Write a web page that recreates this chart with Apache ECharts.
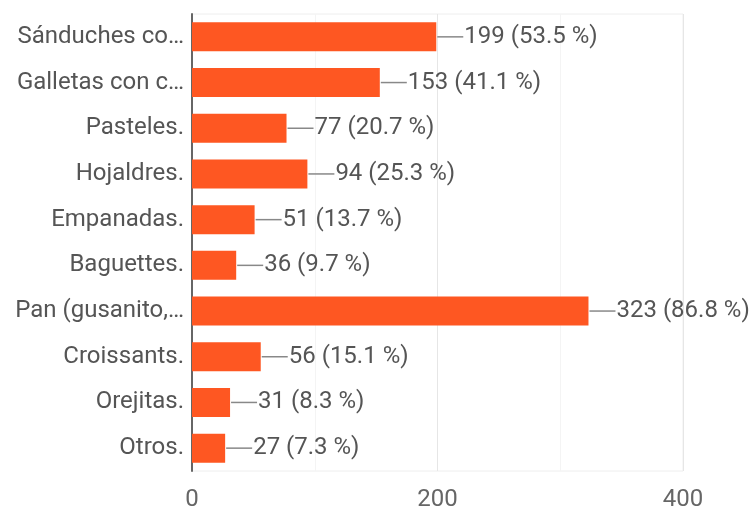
<!DOCTYPE html>
<html>
<head>
<meta charset="utf-8">
<script src="https://cdn.jsdelivr.net/npm/echarts@6/dist/echarts.min.js"></script>
<style>
  html, body { margin: 0; padding: 0; background: #ffffff; }
  #chart { width: 752px; height: 508px; }
</style>
</head>
<body>
<div id="chart"></div>
<script>
// Responses per item (372 respondents, multiple choice)
const categories = [
  'Sánduches co…',
  'Galletas con c…',
  'Pasteles.',
  'Hojaldres.',
  'Empanadas.',
  'Baguettes.',
  'Pan (gusanito,…',
  'Croissants.',
  'Orejitas.',
  'Otros.'
];
const counts = [199, 153, 77, 94, 51, 36, 323, 56, 31, 27];
const percents = ['53.5', '41.1', '20.7', '25.3', '13.7', '9.7', '86.8', '15.1', '8.3', '7.3'];
const xTicks = [0, 200, 400];

const font = 'Roboto, "Noto Sans", sans-serif';
const chart = echarts.init(document.getElementById('chart'), null, { renderer: 'canvas' });

chart.setOption({
  animation: false,
  backgroundColor: '#ffffff',
  grid: {
    left: 192, right: 69, top: 14, bottom: 37,
    outerBoundsMode: 'none',
    containLabel: false,
    show: true, borderColor: '#eeeeee', borderWidth: 1
  },
  xAxis: {
    type: 'value',
    min: xTicks[0],
    max: xTicks[xTicks.length - 1],
    interval: xTicks[1] - xTicks[0],
    axisLine: { show: false },
    axisTick: { show: false },
    axisLabel: {
      color: '#666666', fontFamily: font, fontSize: 24, margin: 17
    },
    splitLine: { show: true, lineStyle: { color: '#e6e6e6', width: 1 } },
    minorTick: { show: false, splitNumber: 2 },
    minorSplitLine: { show: true, lineStyle: { color: '#f4f4f4', width: 1 } }
  },
  yAxis: {
    type: 'category',
    data: categories,
    inverse: true,
    axisLine: { show: true, lineStyle: { color: '#666666', width: 2 } },
    axisTick: { show: false },
    axisLabel: {
      color: '#555555', fontFamily: font, fontSize: 24, margin: 8
    },
    splitLine: { show: false }
  },
  series: [{
    type: 'bar',
    data: counts,
    barWidth: 29,
    itemStyle: { color: '#fe5722' },
    label: {
      show: true,
      position: 'right',
      distance: 1,
      formatter: function (p) {
        return '{ln| }{t|' + counts[p.dataIndex] + ' (' + percents[p.dataIndex] + ' %)}';
      },
      rich: {
        ln: { width: 26, height: 1.5, backgroundColor: '#888888' },
        t: { color: '#555555', fontFamily: font, fontSize: 24, padding: [0, 0, 0, 1] }
      }
    }
  }]
});
</script>
</body>
</html>
